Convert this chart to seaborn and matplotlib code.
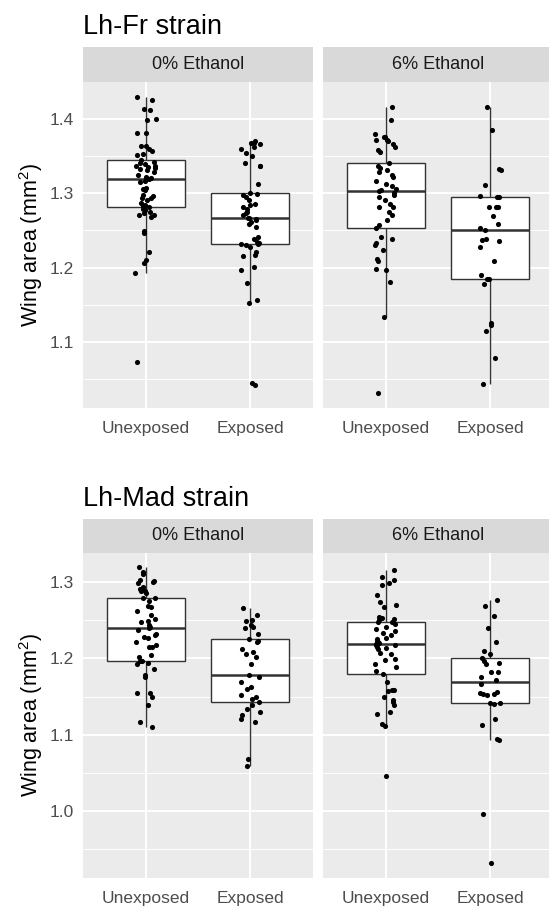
import numpy as np
import pandas as pd
import matplotlib
matplotlib.use("Agg")
import matplotlib.pyplot as plt
from matplotlib.ticker import FixedLocator
import seaborn as sns

# ---------------- data ----------------
strains = ["Lh-Fr strain", "Lh-Mad strain"]
ethanol_levels = ["0% Ethanol", "6% Ethanol"]
treatments = ["Unexposed", "Exposed"]

fr_0_unexposed = [1.430, 1.425, 1.413, 1.412, 1.400, 1.398, 1.381, 1.381, 1.363, 1.363, 1.360, 1.357, 1.353, 1.351,
                  1.344,
                  1.342, 1.340, 1.339, 1.337, 1.336, 1.335, 1.334, 1.333, 1.331, 1.328, 1.324, 1.322, 1.320,
                  1.319,
                  1.317, 1.315, 1.307, 1.306, 1.304, 1.297, 1.296, 1.294, 1.294, 1.291, 1.287, 1.284, 1.283,
                  1.282,
                  1.279, 1.277, 1.275, 1.273, 1.270, 1.270, 1.268, 1.249, 1.246, 1.221, 1.210, 1.206, 1.192, 1.073]
fr_0_exposed = [1.370, 1.368, 1.367, 1.366, 1.362, 1.360, 1.354, 1.350, 1.340, 1.336, 1.336, 1.313,
                1.300,
                1.299, 1.297, 1.295, 1.291, 1.286, 1.284, 1.282, 1.279, 1.275, 1.273, 1.270,
                1.267,
                1.266, 1.265, 1.264, 1.261, 1.259, 1.255, 1.241, 1.238, 1.235, 1.233, 1.232,
                1.231,
                1.230, 1.228, 1.221, 1.217, 1.215, 1.201, 1.197, 1.179, 1.156, 1.152, 1.045, 1.042]
fr_6_unexposed = [1.416, 1.398, 1.380, 1.375, 1.375, 1.372, 1.371, 1.370, 1.366, 1.362, 1.358, 1.355,
                  1.340,
                  1.337, 1.334, 1.331, 1.328, 1.325, 1.322, 1.317, 1.312, 1.309, 1.306, 1.304,
                  1.303,
                  1.300, 1.297, 1.295, 1.291, 1.285, 1.282, 1.281, 1.275, 1.270, 1.264, 1.257,
                  1.253,
                  1.241, 1.239, 1.233, 1.230, 1.223, 1.211, 1.209, 1.198, 1.196, 1.181, 1.134, 1.031]
fr_6_exposed = [1.416, 1.385, 1.332, 1.331, 1.311, 1.296, 1.295, 1.295, 1.282, 1.282, 1.282, 1.269, 1.258,
                1.253, 1.251, 1.238, 1.237, 1.236, 1.227, 1.209, 1.190, 1.185, 1.184, 1.178, 1.125, 1.123,
                1.114, 1.078, 1.044]

mad_0_unexposed = [1.319, 1.313, 1.310, 1.303, 1.301, 1.300, 1.299, 1.293, 1.290, 1.288, 1.288, 1.286,
                   1.279,
                   1.279, 1.275, 1.269, 1.267, 1.262, 1.256, 1.251, 1.249, 1.247, 1.244, 1.241,
                   1.239,
                   1.237, 1.232, 1.230, 1.228, 1.227, 1.221, 1.217, 1.215, 1.215, 1.204, 1.202,
                   1.197,
                   1.196, 1.194, 1.193, 1.186, 1.178, 1.176, 1.155, 1.155, 1.150, 1.139, 1.117, 1.110]
mad_0_exposed = [1.266, 1.256, 1.250, 1.249, 1.243, 1.241, 1.240, 1.232,
                 1.225,
                 1.222, 1.221, 1.212, 1.208, 1.205, 1.202, 1.192,
                 1.178,
                 1.176, 1.169, 1.163, 1.160, 1.152, 1.150, 1.147,
                 1.143,
                 1.139, 1.134, 1.130, 1.126, 1.121, 1.117, 1.068, 1.059]
mad_6_unexposed = [1.316, 1.306, 1.302, 1.299, 1.296, 1.283, 1.274, 1.270, 1.267, 1.254, 1.253, 1.251, 1.250,
                   1.248,
                   1.247, 1.245, 1.241, 1.238, 1.236, 1.233, 1.230, 1.227, 1.225, 1.223, 1.221, 1.220,
                   1.219,
                   1.218, 1.217, 1.215, 1.214, 1.212, 1.207, 1.206, 1.199, 1.198, 1.193, 1.189, 1.184,
                   1.180,
                   1.169, 1.159, 1.158, 1.157, 1.150, 1.145, 1.143, 1.139, 1.130, 1.127, 1.114, 1.111, 1.046]
mad_6_exposed = [1.276, 1.268, 1.255, 1.240, 1.221, 1.210, 1.206, 1.201, 1.196, 1.194, 1.192, 1.182, 1.182,
                 1.176, 1.171, 1.167, 1.156, 1.155, 1.153, 1.153, 1.152, 1.141, 1.141, 1.140, 1.121, 1.113,
                 1.095, 1.093, 0.997, 0.932]

fr_yticks = [1.1, 1.2, 1.3, 1.4]
fr_yticklabels = ["1.1", "1.2", "1.3", "1.4"]
mad_yticks = [1.0, 1.1, 1.2, 1.3]
mad_yticklabels = ["1.0", "1.1", "1.2", "1.3"]

groups = {
    ("Lh-Fr strain", "0% Ethanol", "Unexposed"): fr_0_unexposed,
    ("Lh-Fr strain", "0% Ethanol", "Exposed"): fr_0_exposed,
    ("Lh-Fr strain", "6% Ethanol", "Unexposed"): fr_6_unexposed,
    ("Lh-Fr strain", "6% Ethanol", "Exposed"): fr_6_exposed,
    ("Lh-Mad strain", "0% Ethanol", "Unexposed"): mad_0_unexposed,
    ("Lh-Mad strain", "0% Ethanol", "Exposed"): mad_0_exposed,
    ("Lh-Mad strain", "6% Ethanol", "Unexposed"): mad_6_unexposed,
    ("Lh-Mad strain", "6% Ethanol", "Exposed"): mad_6_exposed,
}
rows = []
for (s, e, t), vals in groups.items():
    for v in vals:
        rows.append({"strain": s, "ethanol": e, "treatment": t, "area": v})
df = pd.DataFrame(rows)

# ---------------- style ----------------
sns.set_style("white")
plt.rcParams["font.family"] = ["Liberation Sans", "DejaVu Sans"]
plt.rcParams["mathtext.fontset"] = "custom"
plt.rcParams["mathtext.rm"] = "Liberation Sans"
plt.rcParams["mathtext.it"] = "Liberation Sans:italic"

W, H = 549, 908
fig = plt.figure(figsize=(W / 100, H / 100), dpi=100)


def px_axes(x0, y0, x1, y1):
    return fig.add_axes([x0 / W, 1 - y1 / H, (x1 - x0) / W, (y1 - y0) / H])


cols = [(83, 313), (323, 553)]
layout = {
    "Lh-Fr strain": dict(title_y=33.5, strip=(47, 81.7), panel=(81.7, 408),
                         ticks=fr_yticks, labels=fr_yticklabels),
    "Lh-Mad strain": dict(title_y=505.5, strip=(519, 552.5), panel=(552.5, 878),
                          ticks=mad_yticks, labels=mad_yticklabels),
}

np.random.seed(7)
for strain in strains:
    L = layout[strain]
    sdf = df[df.strain == strain]
    lo, hi = sdf.area.min(), sdf.area.max()
    pad = 0.05 * (hi - lo)
    ylim = (lo - pad, hi + pad)
    minor = [t + 0.05 for t in [L["ticks"][0] - 0.1] + L["ticks"]]

    fig.text(83 / W, 1 - L["title_y"] / H, strain, fontsize=19.5, color="black",
             ha="left", va="baseline")
    p0, p1 = L["panel"]
    fig.text(31 / W, 1 - ((p0 + p1) / 2) / H, r"Wing area (mm$^{\mathregular{2}}$)",
             rotation=90, fontsize=15.5, color="black", ha="center", va="center")

    for ci, eth in enumerate(ethanol_levels):
        x0, x1 = cols[ci]
        sax = px_axes(x0, L["strip"][0], x1, L["strip"][1])
        sax.set_facecolor("#D9D9D9")
        sax.set_xticks([]); sax.set_yticks([])
        for sp in sax.spines.values():
            sp.set_visible(False)
        sax.text(0.5, 0.5, eth, ha="center", va="center", fontsize=13, color="#1A1A1A",
                 transform=sax.transAxes)

        ax = px_axes(x0, p0, x1, p1)
        ax.set_facecolor("#EBEBEB")
        sub = sdf[sdf.ethanol == eth]
        sns.boxplot(data=sub, x="treatment", y="area", order=treatments, ax=ax,
                    width=0.75, color="white", saturation=1, linecolor="#333333",
                    linewidth=1.0, showfliers=False, showcaps=False,
                    medianprops=dict(linewidth=1.8, color="#333333"))
        sns.stripplot(data=sub, x="treatment", y="area", order=treatments, ax=ax,
                      color="black", size=3.7, jitter=0.1, linewidth=0)
        ax.set_xlim(-0.6, 1.6)
        ax.set_ylim(*ylim)
        ax.set_yticks(L["ticks"])
        ax.set_yticklabels(L["labels"])
        ax.yaxis.set_minor_locator(FixedLocator(minor))
        ax.set_axisbelow(True)
        ax.grid(True, which="major", axis="both", color="white", linewidth=1.4)
        ax.grid(True, which="minor", axis="y", color="white", linewidth=0.7)
        for sp in ax.spines.values():
            sp.set_visible(False)
        ax.set_xlabel("")
        ax.set_ylabel("")
        ax.tick_params(axis="both", which="major", length=3.2, width=1.0, color="#333333",
                       labelcolor="#4D4D4D", labelsize=12.5, pad=3.5)
        ax.tick_params(axis="x", which="major", pad=6.5)
        ax.tick_params(axis="y", which="minor", length=0)
        if ci == 1:
            ax.tick_params(axis="y", which="both", left=False, labelleft=False)

fig.savefig("out.png", dpi=100)
